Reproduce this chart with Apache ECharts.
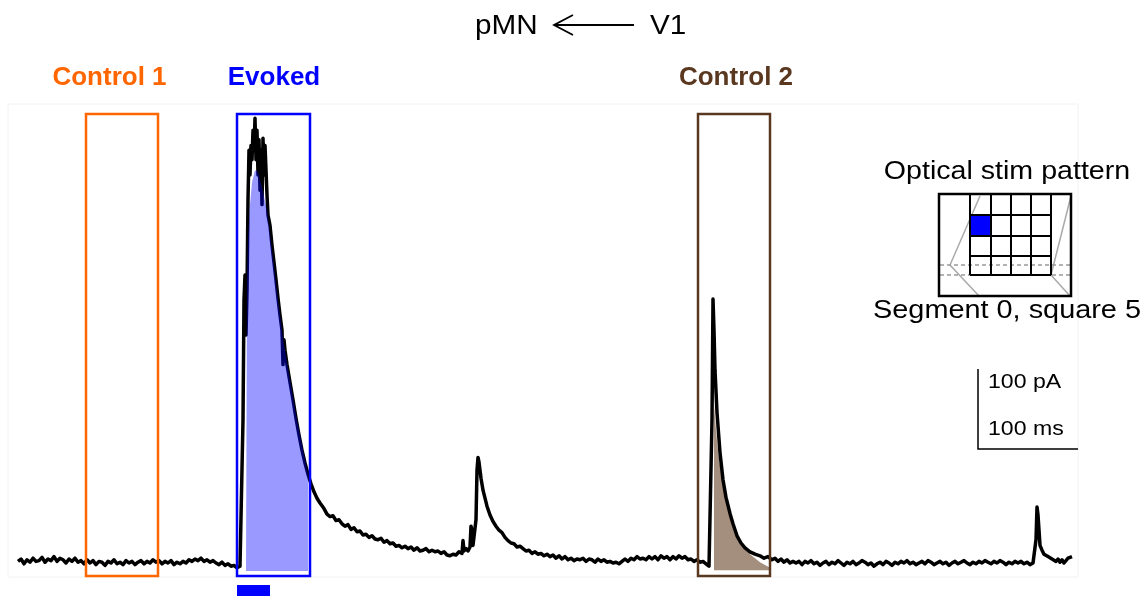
<!DOCTYPE html>
<html>
<head>
<meta charset="utf-8">
<script src="https://cdn.jsdelivr.net/npm/echarts@6/dist/echarts.min.js"></script>
<style>
  html, body { margin: 0; padding: 0; background: #ffffff; }
  #chart { width: 1147px; height: 596px; }
</style>
</head>
<body>
<div id="chart"></div>
<script>
// Whole-cell current trace, time in ms, inward current in pA (plotted upward)
const preStim = [
  [10,2],[13,5],[16,-1],[19,4],[22,1],[25,6],[28,2],[31,3],[34,7],[37,1],[40,5],[43,3],[46,8],[49,2],
  [52,6],[55,4],[58,0],[61,5],[64,2],[67,6],[70,1],[73,3],[76,-1],[79,4],[82,0],[85,3],[88,-2],[91,2],
  [94,1],[97,-3],[100,2],[103,0],[106,4],[109,-1],[112,1],[115,-2],[118,3],[121,0],[124,2],[127,-2],
  [130,1],[133,3],[136,-1],[139,2],[142,0],[145,4],[148,1],[151,3],[154,-1],[157,2],[160,0],[163,3],
  [166,-2],[169,1],[172,-1],[175,2],[178,0],[181,4],[184,2],[187,5],[190,3],[193,6],[196,2],[199,4],
  [202,1],[205,3],[208,0],[211,-2],[214,1],[217,-3],[220,-1],[223,-4],[226,-3],[229,-6],[232,-4]
];
const evokedResponse = [
  [233,-6],[234,-3],[235,179],[236,329],[237,360],[238,285],[239,341],[240,454],[241,516],[242,485],
  [243,522],[244,504],[245,541],[246,516],[247,556],[248,504],[249,541],[250,485],[251,529],[252,466],
  [253,516],[254,448],[255,531],[256,485],[257,522],[258,520],[259,460],[260,435],[262,422],[264,397],
  [266,376],[268,354],[270,331],[272,310],[274,291],[275,248],[276,279],[277,266],[279,248],[282,226],
  [285,204],[288,181],[291,160],[294,141],[297,125],[300,111],[303,99],[306,89],[309,81],[312,75],
  [316,68],[319,61],[322,58],[325,59],[328,53],[331,54],[334,49],[337,46],[340,48],[343,42],[346,44],
  [349,39],[352,40],[355,35],[358,36],[361,32],[364,34],[367,30],[370,29],[373,31],[376,26],[379,28],
  [382,24],[385,25],[388,21],[391,22],[394,19],[397,21],[400,18],[403,20],[406,16],[409,19],[412,15],
  [415,16],[418,18],[421,14],[424,16],[427,14],[430,15],[433,12],[436,14],[439,10],[442,9],[445,11],
  [448,10],[451,14],[454,12]
];
const spontaneousEvent1 = [
  [455,28],[456,15],[458,18],[460,15],[462,20],[463,46],[464,41],[465,22],[467,21],[468,54],[469,116],
  [470,132],[471,126],[473,106],[475,91],[477,81],[479,71],[482,60],[485,52],[488,46],[491,41],[494,38],
  [497,32],[500,28],[503,25],[506,24],[509,20],[512,21],[515,18],[518,15],[521,16],[524,12],[527,14],
  [530,11],[533,12],[536,9],[539,11],[542,8],[545,10],[548,6],[551,9],[554,5],[557,8],[560,4],[563,6],
  [566,3],[569,5],[572,4],[575,6],[578,2],[581,5],[584,4],[587,1],[590,5],[593,2],[596,4],[599,1],
  [602,2],[605,0],[608,1],[611,-1],[614,2],[617,5],[620,2],[623,6],[626,4],[629,8],[632,5],[635,6],
  [638,4],[641,8],[644,5],[647,8],[650,4],[653,9],[656,6],[659,8],[662,4],[665,8],[668,5],[671,9],
  [674,6],[677,8],[680,4],[683,5],[686,2],[689,4],[692,1],[695,2],[698,-1],[701,-4],[703,-2]
];
const control2Event = [
  [704,179],[705,330],[706,291],[707,241],[709,188],[712,138],[715,104],[718,82],[722,62],[725,49],
  [729,34],[733,25],[737,19],[742,14],[747,11],[752,9],[756,6],[760,8],[764,4],[767,6],[770,2],[773,5],
  [776,1],[779,4],[782,0],[785,2],[788,0],[791,2]
];
const lateBaseline = [
  [794,-2],[797,2],[800,0],[803,3],[806,-1],[809,1],[812,-3],[815,0],[818,2],[821,-2],[824,1],[827,-1],
  [830,3],[833,0],[836,-3],[839,1],[842,-1],[845,2],[848,-2],[851,0],[854,3],[857,1],[860,-2],[863,0],
  [866,-4],[869,-1],[872,1],[875,-2],[878,2],[881,0],[884,-3],[887,1],[890,-1],[893,2],[896,0],[899,3],
  [902,-1],[905,1],[908,-2],[911,0],[914,2],[917,-1],[920,3],[923,1],[926,-2],[929,0],[932,2],[935,-1],
  [938,1],[941,-3],[944,0],[947,2],[950,-1],[953,1],[956,3],[959,0],[962,-2],[965,1],[968,-1],[971,2],
  [974,0],[977,3],[980,1],[983,-1],[986,2],[989,0],[992,3],[995,1],[998,-2],[1001,1],[1004,-1],[1007,2],
  [1010,0],[1013,2],[1016,-1],[1019,1],[1022,-2],[1025,0],[1027,-1]
];
const spontaneousEvent2 = [
  [1028,29],[1029,70],[1030,60],[1031,41],[1032,22],[1034,16],[1036,11],[1038,12],[1040,8],[1042,9],
  [1044,5],[1046,6],[1048,2],[1050,5],[1052,1],[1054,4],[1056,0],[1058,2],[1060,6],[1062,4],[1064,8]
];

// Fitted charge areas (ms, pA) and the level they are integrated from
const evokedFit = [
  [238,-10],[238.5,179],[239,348],[240,406],[242,448],[244,476],[247,491],[250,489],[254,469],[259,441],
  [264,391],[270,329],[276,272],[282,229],[288,185],[294,148],[297,129],[300,110]
];
const evokedFitBase = -10;
const control2Fit = [
  [706,-9],[706,198],[708,166],[710,141],[712,122],[716,91],[720,69],[724,51],[728,39],[732,29],
  [737,19],[742,11],[747,6],[752,1],[757,-2.5],[762,-6]
];
const control2FitBase = -9;

// Analysis windows (ms) and their current span (pA)
const windowNames = ['Control 1', 'Evoked', 'Control 2'];
const windowStart = [78, 229, 690];
const windowEnd = [150, 302, 762];
const windowTop = 561.25;
const windowBottom = -16.25;

// Light stimulus (ms)
const stimStart = 229;
const stimEnd = 262;

// Scale bar: 100 ms by 100 pA
const scaleBarOrigin = [970, 142.5];
const scaleBarTime = 100;
const scaleBarCurrent = 100;
const scaleBarLabels = ['100 pA', '100 ms'];

const trace = [].concat(preStim, evokedResponse, spontaneousEvent1, control2Event, lateBaseline, spontaneousEvent2);

const windowColors = ['#ff6600', '#0000ff', '#5a3820'];
const FONT = '"Liberation Sans", Arial, Helvetica, sans-serif';

// Text placed by the vertical centre of its line box
function label(text, x, y, size, color, weight, align, sx) {
  return {
    type: 'text', x: x, y: y, scaleX: sx || 1, silent: true,
    style: { text: text, x: 0, y: 0, fill: color, font: (weight || 'normal') + ' ' + size + 'px ' + FONT,
             align: align || 'left', verticalAlign: 'middle' }
  };
}
function seg(points, color, width, dash) {
  return { type: 'polyline', silent: true, shape: { points: points },
           style: { stroke: color, lineWidth: width, fill: null, lineDash: dash || null } };
}

// Stimulation-pattern inset: 4x4 grid with one lit square
const inset = [];
inset.push(seg([[980,196],[950,265],[979,296]], '#aaaaaa', 1.5));
inset.push(seg([[1071,196],[1051,275],[1070,296]], '#aaaaaa', 1.5));
inset.push(seg([[940,265],[1070,265]], '#999999', 1.5, [4, 3]));
inset.push(seg([[940,275],[1070,275]], '#999999', 1.5, [4, 3]));
inset.push({ type: 'rect', silent: true, shape: { x: 970, y: 215, width: 21, height: 21 }, style: { fill: '#0000ff' } });
[194, 215, 236, 256, 275].forEach(function (y) { inset.push(seg([[970,y],[1051,y]], '#000', 2)); });
[970, 991, 1011, 1031, 1051].forEach(function (x) { inset.push(seg([[x,194],[x,275]], '#000', 2)); });
inset.push({ type: 'rect', silent: true, shape: { x: 939, y: 194, width: 132, height: 102 },
             style: { fill: null, stroke: '#000', lineWidth: 2.5 } });

const chart = echarts.init(document.getElementById('chart'), null, { renderer: 'canvas' });
chart.setOption({
  animation: false,
  backgroundColor: '#ffffff',
  grid: { left: 8, right: 69, top: 104, bottom: 19, show: true, borderColor: '#f2f2f2', borderWidth: 1 },
  xAxis: { type: 'value', min: 0, max: 1070, show: false },
  yAxis: { type: 'value', min: -17.5, max: 573.75, show: false },
  series: [
    {
      name: 'Control 2 charge', type: 'line', data: control2Fit, symbol: 'none', silent: true, z: 1,
      lineStyle: { width: 0 }, areaStyle: { color: 'rgba(90,50,20,0.55)', origin: control2FitBase, opacity: 1 }
    },
    {
      name: 'Current', type: 'line', data: trace, symbol: 'none', silent: true, z: 2,
      lineStyle: { color: '#000000', width: 3.5, join: 'round' }
    },
    {
      name: 'Evoked charge', type: 'line', data: evokedFit, symbol: 'none', silent: true, z: 3,
      lineStyle: { width: 0 }, areaStyle: { color: 'rgba(0,0,255,0.4)', origin: evokedFitBase, opacity: 1 }
    },
    {
      name: 'Windows', type: 'custom', clip: false, silent: true, z: 4,
      data: windowStart.map(function (s, i) { return [s, windowEnd[i]]; }),
      renderItem: function (params, api) {
        const p1 = api.coord([api.value(0), windowTop]);
        const p2 = api.coord([api.value(1), windowBottom]);
        return { type: 'rect', shape: { x: p1[0], y: p1[1], width: p2[0] - p1[0], height: p2[1] - p1[1] },
                 style: { fill: 'none', stroke: windowColors[params.dataIndex], lineWidth: 2.5 } };
      }
    },
    {
      name: 'Stimulus', type: 'custom', clip: false, silent: true, z: 4,
      data: [[stimStart, stimEnd]],
      renderItem: function (params, api) {
        const p1 = api.coord([api.value(0), 0]);
        const p2 = api.coord([api.value(1), 0]);
        return { type: 'rect', shape: { x: p1[0], y: p1[1] + 22, width: p2[0] - p1[0], height: 12 },
                 style: { fill: '#0000ff' } };
      }
    },
    {
      name: 'Scale bar', type: 'custom', clip: false, silent: true, z: 4,
      data: [[scaleBarOrigin[0], scaleBarOrigin[1]]],
      renderItem: function (params, api) {
        const o = api.coord([api.value(0), api.value(1)]);
        const top = api.coord([api.value(0), api.value(1) + scaleBarCurrent]);
        const right = api.coord([api.value(0) + scaleBarTime, api.value(1)]);
        return { type: 'group', children: [
          { type: 'polyline', shape: { points: [[top[0], top[1]], [o[0], o[1]], [right[0], right[1]]] },
            style: { stroke: '#000', lineWidth: 1.5, fill: null } },
          { type: 'text', x: o[0] + 10, y: top[1] + 13, scaleX: 1.1,
            style: { text: scaleBarLabels[0], font: '21px ' + FONT, fill: '#000', verticalAlign: 'middle' } },
          { type: 'text', x: o[0] + 10, y: o[1] - 20, scaleX: 1.1,
            style: { text: scaleBarLabels[1], font: '21px ' + FONT, fill: '#000', verticalAlign: 'middle' } }
        ] };
      }
    }
  ],
  graphic: [
    label('pMN', 475, 27, 27, '#000', 'normal', 'left', 1.1),
    label('V1', 650, 27, 27, '#000', 'normal', 'left', 1.1),
    seg([[555,25],[634,25]], '#000', 1.8),
    seg([[573,15],[554,25],[573,35]], '#000', 1.8),
    label(windowNames[0], 109.5, 78, 26, windowColors[0], 'bold', 'center', 1),
    label(windowNames[1], 274, 78, 26, windowColors[1], 'bold', 'center', 1),
    label(windowNames[2], 736, 78, 26, windowColors[2], 'bold', 'center', 1),
    label('Optical stim pattern', 1007, 172, 26, '#000', 'normal', 'center', 1.1),
    label('Segment 0, square 5', 1007, 311, 26, '#000', 'normal', 'center', 1.11)
  ].concat(inset)
});
</script>
</body>
</html>
